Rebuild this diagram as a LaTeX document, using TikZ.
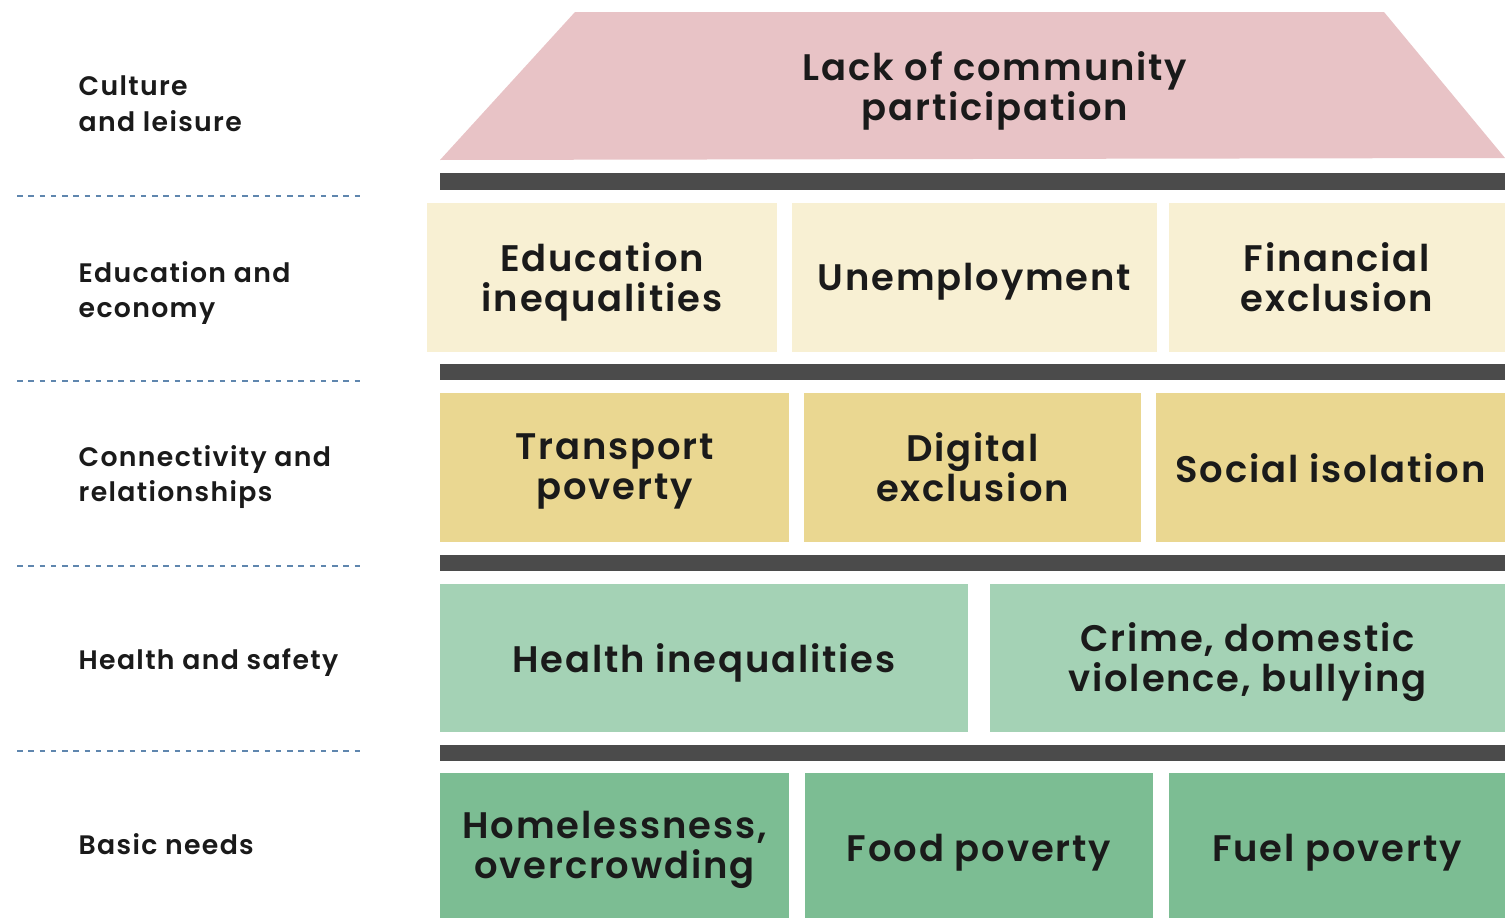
\documentclass[tikz,border=0pt]{standalone}
\usepackage{fontspec}
\setmainfont{Poppins}[BoldFont={Poppins SemiBold}, LetterSpace=5]
\usepackage{xcolor}
\usepackage{tikz}
\usetikzlibrary{positioning}

\definecolor{roofpink}{HTML}{E8C3C6}
\definecolor{creamrow}{HTML}{F8F0D3}
\definecolor{sandrow}{HTML}{EAD791}
\definecolor{mintrow}{HTML}{A4D2B5}
\definecolor{greenrow}{HTML}{7CBD93}
\definecolor{bargrey}{HTML}{4B4B4B}
\definecolor{dashblue}{HTML}{5F86AE}
\definecolor{inkdark}{HTML}{1A1A1A}

\begin{document}
\begin{tikzpicture}[x=0.01cm, y=-0.01cm,
    block/.style={inner sep=0pt, outer sep=0pt, align=center,
        text=inkdark, font=\fontsize{10.5}{11.4}\selectfont\bfseries,
        execute at begin node={\vphantom{d}},
        execute at end node={\vphantom{p}}},
    layer/.style={anchor=west, align=left, inner sep=0pt, text=inkdark,
        font=\fontsize{7.6}{10.2}\selectfont\bfseries},
    shelf/.style={fill=bargrey, draw=none}]

\useasboundingbox (0,0) rectangle (1505,918);

% Roof
\fill[roofpink] (575,12) -- (1384,12) -- (1505,158) -- (440,160) -- cycle;
\node[block] (roof) at (995,91) {Lack of community\\participation};

% Shelves between the rows
\foreach \top/\bot in {173/190, 364/380, 555/571, 745/761}
    \fill[shelf] (440,\top) rectangle (1505,\bot);

% Row tiles
\foreach \xa/\xb/\ya/\yb/\col in {427/777/203/352/creamrow, 792/1157/203/352/creamrow,
        1169/1505/203/352/creamrow, 440/789/393/542/sandrow, 804/1141/393/542/sandrow,
        1156/1505/393/542/sandrow, 440/968/584/732/mintrow, 990/1505/584/732/mintrow,
        440/789/773/918/greenrow, 805/1153/773/918/greenrow, 1169/1505/773/918/greenrow}
    \fill[\col] (\xa,\ya) rectangle (\xb,\yb);

% Education and economy
\node[block] (edu) at (602,281.5) {Education\\inequalities};
\node[block] (unemp) at (974.5,282) {Unemployment};
\node[block] (fin) at (1337,281.5) {Financial\\exclusion};

% Connectivity and relationships
\node[block] (transport) at (614.5,471.5) {Transport\\poverty};
\node[block] (digital) at (972.5,471.5) {Digital\\exclusion};
\node[block] (social) at (1330.5,472.5) {Social isolation};

% Health and safety
\node[block] (health) at (704,662.5) {Health inequalities};
\node[block] (crime) at (1247.5,662) {Crime, domestic\\violence, bullying};

% Basic needs
\node[block] (home) at (614.5,850) {Homelessness,\\overcrowding};
\node[block] (food) at (979,852.5) {Food poverty};
\node[block] (fuel) at (1337,852.5) {Fuel poverty};

% Left hand labels
\node[layer] (culture) at (78,104) {Culture\\and leisure};
\node[layer] (economy) at (78,293) {Education and\\economy};
\node[layer] (connect) at (78,477) {Connectivity and\\relationships};
\node[layer] (safety) at (78,663) {Health and safety};
\node[layer] (needs) at (78,844) {Basic needs};

% Dashed separators
\foreach \y in {196, 381, 566, 751}
    \draw[dashblue, dash pattern=on 1.6pt off 1.6pt, line width=0.45pt] (17,\y) -- (362,\y);

\end{tikzpicture}
\end{document}
